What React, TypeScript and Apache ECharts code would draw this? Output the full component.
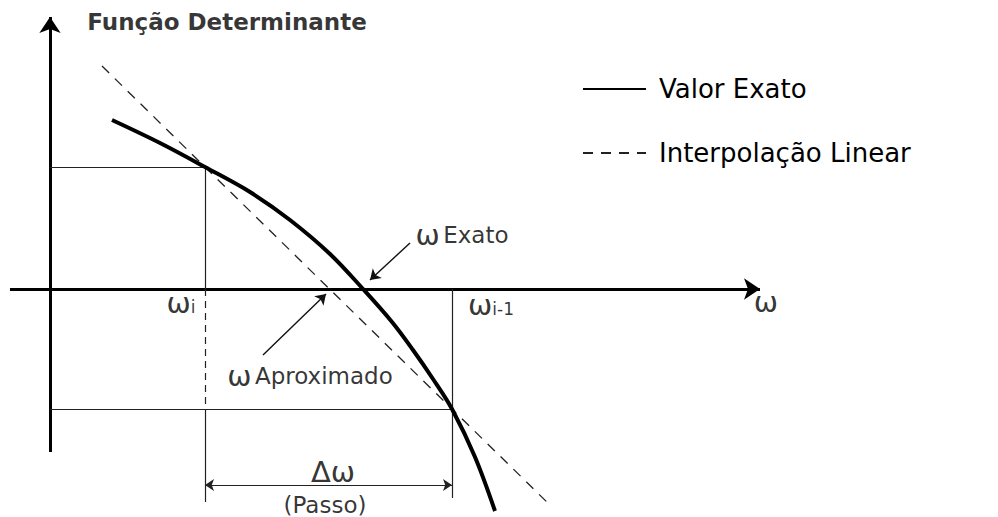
import React, { useEffect, useRef } from "react";
import * as echarts from "echarts";

// Chart units: x = 0 on the vertical axis, y = 0 on the ω axis.
const exactX = [62, 110, 155, 200, 240, 280, 313, 342, 363, 383, 402, 425, 445];
const exactY = [169, 146, 122, 97, 69, 35, 0, -33, -61, -90, -120, -168, -222];

const interpX = [52, 155, 402, 502];
const interpY = [223, 122, -120, -218];

const seriesNames = ["Valor Exato", "Interpolação Linear"];

// segments [x1, y1, x2, y2] in chart units
const axisSegments = [
  [0, -163, 0, 272],
  [-40, 0, 710, 0],
];
const levelSegments = [
  [0, 122, 155, 122],
  [0, -120, 402, -120],
  [155, 122, 155, 0],
  [155, -120, 155, -213],
  [402, 0, 402, -209],
];
const brokenSegments = [[155, 0, 155, -120]];
const stepSegment = [155, -196, 402, -196];
const pointerSegments = [
  [360, 46, 320, 9],
  [213, -66, 276, -5],
];

// annotation texts (rich format) and their centres in chart units
const labelTexts = [
  "{b|Função Determinante}",
  "{w|ω} {t|Exato}",
  "{w|ω} {t|Aproximado}",
  "{v|ω}{s|i}",
  "{v|ω}{s|i-1}",
  "{w|ω}",
  "{w|Δω}",
  "{t|(Passo)}",
];
const labelX = [177, 412, 260, 131, 441, 716, 283, 275];
const labelY = [267, 54, -87, -18, -20, -13, -183, -216];

const App = () => {
  const ref = useRef<HTMLDivElement>(null);
  useEffect(() => {
    if (!ref.current) return;
    const chart = echarts.init(ref.current, null, { renderer: "svg" });

    const seg = (s: number[], start: string, end: string, style: any, size = 10) => [
      { coord: [s[0], s[1]], symbol: start, symbolSize: size, lineStyle: style },
      { coord: [s[2], s[3]], symbol: end, symbolSize: size },
    ];
    const thin = { color: "#222", width: 1.2, type: "solid" };
    const markData: any[] = [
      ...axisSegments.map((s) => seg(s, "none", "arrow", { color: "#000", width: 3, type: "solid" }, 16)),
      ...levelSegments.map((s) => seg(s, "none", "none", thin)),
      ...brokenSegments.map((s) => seg(s, "none", "none", { color: "#222", width: 1.2, type: [7, 5] })),
      seg(stepSegment, "arrow", "arrow", thin, 9),
      ...pointerSegments.map((s) => seg(s, "none", "arrow", { color: "#111", width: 1.4, type: "solid" }, 10)),
    ];

    const font = "DejaVu Sans";
    const rich = {
      b: { fontFamily: font, fontWeight: "bold", fontSize: 23, color: "#000" },
      t: { fontFamily: font, fontSize: 23, color: "#000" },
      w: { fontFamily: font, fontSize: 29, color: "#000" },
      v: { fontFamily: font, fontSize: 29, color: "#000", padding: [0, 0, 9, 0] },
      s: { fontFamily: font, fontSize: 17, color: "#000" },
    };

    chart.setOption({
      animation: false,
      backgroundColor: "#fff",
      grid: { left: 0, right: 0, top: 0, bottom: 0 },
      xAxis: { type: "value", min: -50, max: 948, show: false },
      yAxis: { type: "value", min: -228, max: 289, show: false },
      legend: {
        data: seriesNames,
        orient: "vertical",
        left: 582,
        top: 76,
        padding: 0,
        itemWidth: 63,
        itemHeight: 14,
        itemGap: 38,
        selectedMode: false,
        itemStyle: { opacity: 0 },
        textStyle: { fontFamily: font, fontSize: 26, color: "#000", padding: [0, 0, 0, 8] },
      },
      series: [
        {
          name: "guides",
          type: "line",
          data: [[0, 0]],
          symbol: "none",
          silent: true,
          lineStyle: { width: 0 },
          markLine: {
            silent: true,
            animation: false,
            label: { show: false },
            emphasis: { disabled: true },
            data: markData,
          },
          z: 2,
        },
        {
          name: seriesNames[0],
          type: "line",
          data: exactX.map((x, i) => [x, exactY[i]]),
          smooth: 0.35,
          symbol: "none",
          lineStyle: { color: "#000", width: 4 },
          itemStyle: { color: "#000" },
          z: 5,
        },
        {
          name: seriesNames[1],
          type: "line",
          data: interpX.map((x, i) => [x, interpY[i]]),
          symbol: "none",
          lineStyle: { color: "#222", width: 1.3, type: [10, 8] },
          itemStyle: { color: "#222" },
          z: 4,
        },
        {
          name: "labels",
          type: "scatter",
          symbolSize: 0,
          silent: true,
          z: 10,
          data: labelTexts.map((t, i) => ({
            value: [labelX[i], labelY[i]],
            label: {
              show: true,
              formatter: t,
              position: [0, 0],
              align: "center",
              verticalAlign: "middle",
              color: "#000",
              rich,
            },
          })),
        },
      ],
    });
    return () => chart.dispose();
  }, []);
  return <div ref={ref} style={{ position: "fixed", left: 0, top: 0, width: 998, height: 517 }} />;
};

export default App;
